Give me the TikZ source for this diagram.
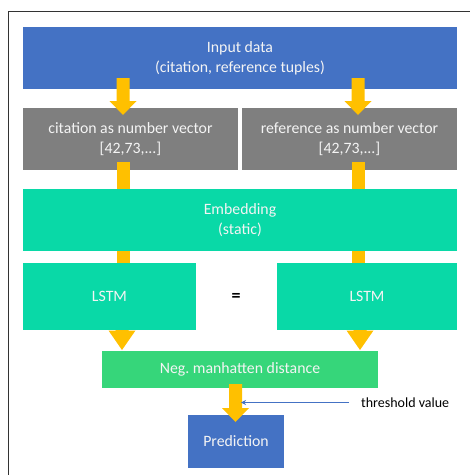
\documentclass[tikz,border=0pt]{standalone}
\usepackage{fontspec}
\setmainfont{Carlito}
\usetikzlibrary{arrows.meta}
\frenchspacing
\definecolor{boxblue}{HTML}{4472C4}
\definecolor{boxgray}{HTML}{7F7F7F}
\definecolor{boxteal}{HTML}{09D9A7}
\definecolor{boxgreen}{HTML}{36D67A}
\definecolor{arrowyellow}{HTML}{FFC000}
\definecolor{txtwhite}{HTML}{F4F4F4}
\tikzset{
  blk/.style={draw=none, inner sep=0pt, text=txtwhite, align=center, font=\fontsize{15.8}{20}\selectfont},
  fat/.style={fill=arrowyellow, draw=none},
}
\newcommand\downarrowblk[4]{% cx, ytop, yhead, ytip
  \fill[fat] (#1-6.5,#2) -- (#1+6.5,#2) -- (#1+6.5,#3) -- (#1+13.5,#3) -- (#1,#4) -- (#1-13.5,#3) -- (#1-6.5,#3) -- cycle;}
\newcommand\shaftblk[3]{% cx, ytop, ybottom
  \fill[fat] (#1-6.5,#2) rectangle (#1+6.5,#3);}
\begin{document}
\begin{tikzpicture}[x=1pt,y=-1pt]
\useasboundingbox (0,0) rectangle (470,475);
\fill[white] (0,0) rectangle (470,475);
% frame (partly visible)
\draw[line width=1.2pt, black!80] (8.5,475) -- (8.5,11.5) -- (470,11.5);
% boxes
\fill[boxblue] (23,27) rectangle (457,89);
\node[blk] (in) at (240,58) {Input data\\(citation, reference tuples)};
\fill[boxgray] (23,108) rectangle (238,170);
\node[blk] (cit) at (130.5,139) {citation as number vector\\{}[42,73,...]};
\fill[boxgray] (242,108) rectangle (457,170);
\node[blk] (ref) at (349.5,139) {reference as number vector\\{}[42,73,...]};
\fill[boxteal] (23,189) rectangle (457,251);
\node[blk] (emb) at (240,220) {Embedding\\(static)};
\fill[boxteal] (23,263) rectangle (196,330);
\node[blk] (lstml) at (109.5,296.5) {LSTM};
\fill[boxteal] (277,263) rectangle (457,330);
\node[blk] (lstmr) at (367,296.5) {LSTM};
\node[blk, text=black, font=\fontsize{18}{20}\selectfont\bfseries] (eq) at (236,297) {=};
\fill[boxgreen] (102,351) rectangle (378,388);
\node[blk] (neg) at (240,369.5) {Neg. manhatten distance};
\fill[boxblue] (188,415) rectangle (284,468);
\node[blk] (pred) at (236,441.5) {Prediction};
% yellow arrows
\downarrowblk{123}{78}{101}{115}
\downarrowblk{358}{78}{101}{115}
\shaftblk{123}{162}{189}
\shaftblk{358}{162}{189}
\shaftblk{123}{251}{263}
\shaftblk{358}{251}{263}
\downarrowblk{122}{330}{330.5}{350}
\downarrowblk{360}{330}{330.5}{350}
\downarrowblk{235.5}{384}{408}{422}
% threshold
\node[anchor=west, inner sep=0pt, font=\fontsize{14}{16}\selectfont] (thr) at (361,403) {threshold value};
\coordinate (thrtip) at (241,402.5);
\draw[boxblue, line width=1.1pt, -{Stealth[length=5pt,width=5pt]}] (349,402.5) -- (thrtip);
\end{tikzpicture}
\end{document}
